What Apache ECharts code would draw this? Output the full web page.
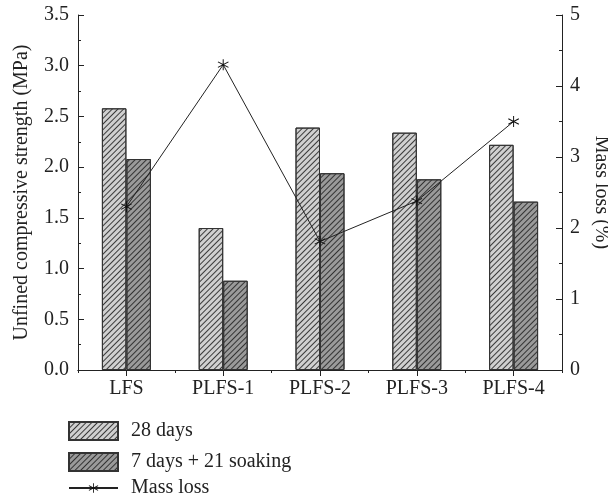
<!DOCTYPE html>
<html>
<head>
<meta charset="utf-8">
<script src="https://cdn.jsdelivr.net/npm/echarts@6/dist/echarts.min.js"></script>
<style>
  html, body { margin: 0; padding: 0; background: #fff; }
  #chart { width: 608px; height: 502px; }
</style>
</head>
<body>
<div id="chart"></div>
<script>
// data
const categories = ["LFS", "PLFS-1", "PLFS-2", "PLFS-3", "PLFS-4"];
const strength28 = [2.58, 1.40, 2.39, 2.34, 2.22];
const strengthSoak = [2.08, 0.88, 1.94, 1.88, 1.66];
const massLoss = [2.3, 4.3, 1.81, 2.38, 3.5];

const FONT = "Liberation Serif";
const INK = "#222";
const FS = 20;

// asterisk marker (three thin bars, same winding)
const starPath =
  "path://M9.2 0L10.8 0L10.8 20L9.2 20Z" +
  "M0.94 5.69L1.74 4.31L19.06 14.31L18.26 15.69Z" +
  "M18.26 4.31L19.06 5.69L1.74 15.69L0.94 14.31Z";

const hatch = (c) => ({
  color: c,
  symbol: "rect",
  symbolSize: 1,
  dashArrayX: [1, 0],
  dashArrayY: [1, 2.2],
  rotation: -Math.PI / 4,
});

const chart = echarts.init(document.getElementById("chart"));

const legendText = { fontFamily: FONT, fontSize: FS, color: INK, lineHeight: 24, padding: [0, 0, 0, 8] };

const option = {
  animation: false,
  textStyle: { fontFamily: FONT, color: INK },
  grid: { left: 78, right: 46, top: 15, bottom: 132, outerBoundsMode: "none" },
  legend: [
    {
      data: ["28 days", "7 days + 21 soaking"],
      orient: "vertical",
      left: 63,
      top: 414,
      itemWidth: 49,
      itemHeight: 18,
      itemGap: 7,
      icon: "rect",
      textStyle: legendText,
    },
    {
      data: ["Mass loss"],
      left: 63,
      top: 471,
      itemWidth: 49,
      itemHeight: 12,
      textStyle: legendText,
    },
  ],
  xAxis: [
    {
      type: "category",
      data: categories,
      position: "bottom",
      axisLine: { lineStyle: { color: INK, width: 1 } },
      axisTick: { inside: true, interval: 0, length: 4, lineStyle: { color: INK } },
      axisLabel: { fontFamily: FONT, fontSize: FS, color: INK, margin: 9, interval: 0 },
    },
    {
      // mirror frame on top: short ticks at group edges, long ones at group centres
      type: "value",
      position: "top",
      min: 0,
      max: 10,
      interval: 2,
      axisLine: { show: true, lineStyle: { color: INK, width: 1 } },
      axisTick: { show: true, inside: true, length: 3, lineStyle: { color: INK } },
      minorTick: { show: true, splitNumber: 2, length: 6, lineStyle: { color: INK } },
      axisLabel: { show: false },
      splitLine: { show: false },
    },
  ],
  yAxis: [
    {
      type: "value",
      min: 0,
      max: 3.5,
      interval: 0.5,
      name: "Unfined compressive strength (MPa)",
      nameLocation: "middle",
      nameGap: 46,
      nameTextStyle: { fontFamily: FONT, fontSize: FS, color: INK },
      axisLine: { show: true, lineStyle: { color: INK, width: 1 } },
      axisTick: { show: true, inside: true, length: 6, lineStyle: { color: INK } },
      minorTick: { show: true, splitNumber: 2, length: 3, lineStyle: { color: INK } },
      axisLabel: {
        fontFamily: FONT,
        fontSize: FS,
        color: INK,
        margin: 9,
        formatter: (v) => v.toFixed(1),
      },
      splitLine: { show: false },
    },
    {
      type: "value",
      min: 0,
      max: 5,
      interval: 1,
      position: "right",
      name: "Mass loss (%)",
      nameLocation: "middle",
      nameRotate: -90,
      nameGap: 27,
      nameTextStyle: { fontFamily: FONT, fontSize: FS, color: INK },
      axisLine: { show: true, lineStyle: { color: INK, width: 1 } },
      axisTick: { show: true, inside: true, length: 6, lineStyle: { color: INK } },
      minorTick: { show: true, splitNumber: 2, length: 3, lineStyle: { color: INK } },
      axisLabel: { fontFamily: FONT, fontSize: FS, color: INK, margin: 8 },
      splitLine: { show: false },
    },
  ],
  series: [
    {
      name: "28 days",
      type: "bar",
      data: strength28,
      barWidth: 24.5,
      barGap: "0%",
      itemStyle: {
        color: "#d0d0d0",
        borderColor: "#333",
        borderWidth: 1,
        decal: hatch("#3a3a3a"),
      },
    },
    {
      name: "7 days + 21 soaking",
      type: "bar",
      data: strengthSoak,
      barWidth: 24.5,
      itemStyle: {
        color: "#9a9a9a",
        borderColor: "#333",
        borderWidth: 1,
        decal: hatch("#333333"),
      },
    },
    {
      name: "Mass loss",
      type: "line",
      yAxisIndex: 1,
      data: massLoss,
      symbol: starPath,
      symbolSize: 11,
      itemStyle: { color: "#111" },
      lineStyle: { color: "#222", width: 1 },
      z: 5,
    },
  ],
};

chart.setOption(option);
</script>
</body>
</html>
